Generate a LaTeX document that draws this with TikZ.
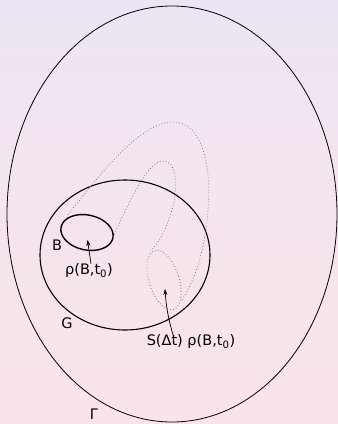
\documentclass[tikz,border=0pt]{standalone}
\usepackage{fontspec}
\setmainfont{DejaVu Sans}
\usetikzlibrary{shapes.geometric,arrows.meta,positioning}
\definecolor{bgtop}{RGB}{237,229,244}
\definecolor{bgbottom}{RGB}{251,228,233}
\definecolor{flowgray}{RGB}{120,120,130}

\tikzset{
  region/.style={draw, ellipse, inner sep=0pt},
  flowline/.style={flowgray, line width=0.8pt, dash pattern=on 0.8pt off 2.2pt},
  lbl/.style={inner sep=1pt, font=\fontsize{14.5}{17}\selectfont},
  pointer/.style={-{Stealth[length=6pt,width=4pt]}, line width=0.7pt}
}

\begin{document}
\begin{tikzpicture}[x=1pt,y=-1pt]
    % background
    \shade[top color=bgtop, bottom color=bgbottom] (0,0) rectangle (338,424);
    \useasboundingbox (0,0) rectangle (338,424);

    % phase space and regions
    \node[region, line width=0.8pt, minimum width=330pt, minimum height=416pt] (gamma) at (172,214) {};
    \node[region, line width=1.1pt, minimum width=170pt, minimum height=150pt] (G) at (125,255) {};
    \node[region, line width=1.4pt, minimum width=53pt, minimum height=35pt, rotate=-12] (B) at (87,232.5) {};
    \node[region, flowline, minimum width=30pt, minimum height=62pt, rotate=18] (SB) at (164,280) {};

    % flow tube between B and its image
    \draw[flowline] (68,215) .. controls (110,160) and (145,122) .. (173,122)
        .. controls (200,122) and (212,160) .. (208,210)
        .. controls (205,250) and (195,280) .. (182,300);
    \draw[flowline] (113,237) .. controls (130,200) and (148,161) .. (163,161)
        .. controls (178,161) and (178,190) .. (172,210)
        .. controls (166,230) and (160,240) .. (152,250);

    % labels
    \node[lbl] (Blabel) at (57,245) {B};
    \node[lbl] (rho0) at (89,271) {ρ(B,t\textsubscript{0})};
    \node[lbl] (Glabel) at (67,323) {G};
    \node[lbl] (rhot) at (191,342) {S(Δt) ρ(B,t\textsubscript{0})};
    \node[lbl] (gammalabel) at (94,414) {Γ};

    \coordinate (Bin) at (87.5,240);
    \coordinate (SBin) at (165,289);
    \draw[pointer] (rho0.north) ++(2,1) -- (Bin);
    \draw[pointer] (rhot.north) ++(-18,1) to[bend left=6] (SBin);
\end{tikzpicture}
\end{document}
